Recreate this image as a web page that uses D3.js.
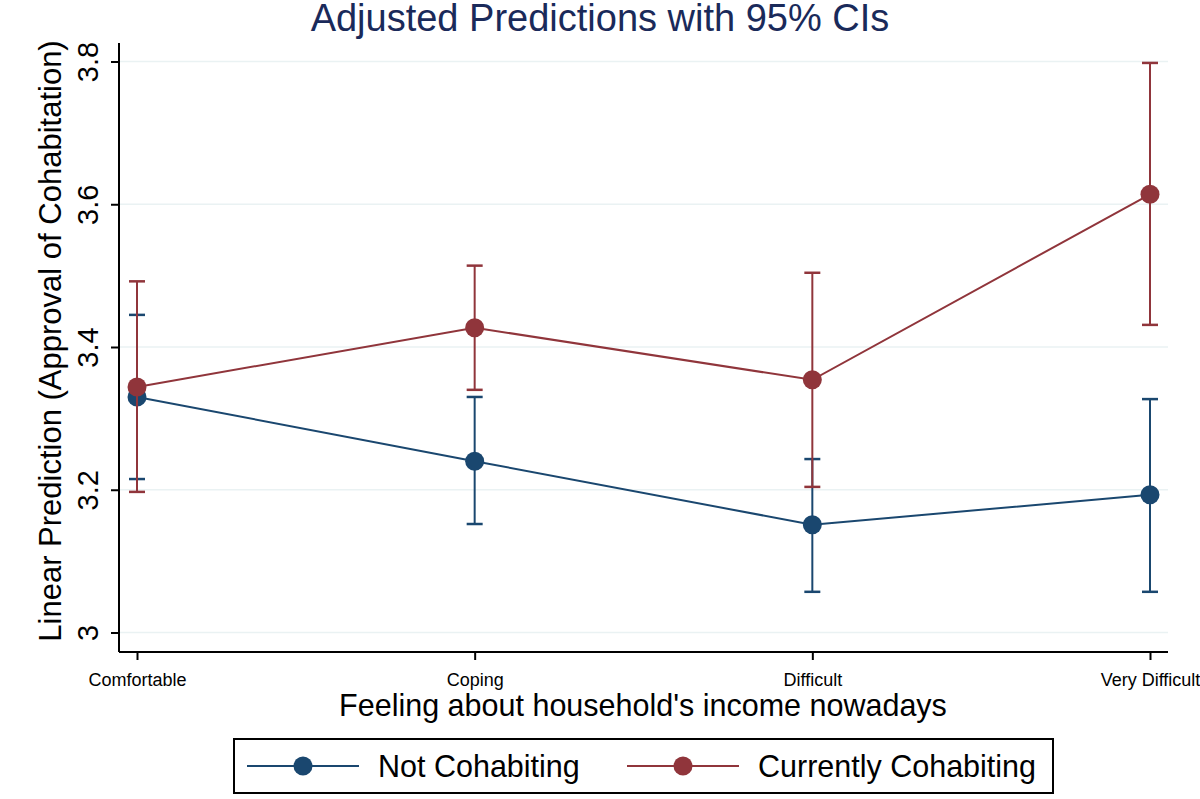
<!DOCTYPE html>
<html>
<head>
<meta charset="utf-8">
<script src="https://cdn.jsdelivr.net/npm/d3@7"></script>
<style>
  body { margin: 0; background: #fff; }
  svg { font-family: "Liberation Sans", Arial, sans-serif; }
</style>
</head>
<body>
<svg id="chart" width="1200" height="799"></svg>
<script>
// Categories and values
var categories = ["Comfortable", "Coping", "Difficult", "Very Difficult"];
var yTicks = [3, 3.2, 3.4, 3.6, 3.8];

var notCohab = [3.330, 3.240, 3.151, 3.193];
var notCohabLo = [3.215, 3.152, 3.057, 3.057];
var notCohabHi = [3.445, 3.330, 3.243, 3.327];

var cohab = [3.344, 3.427, 3.354, 3.614];
var cohabLo = [3.197, 3.340, 3.204, 3.431];
var cohabHi = [3.492, 3.514, 3.504, 3.798];

var series = [
    { name: "Not Cohabiting", color: "#1a476f", est: notCohab, lo: notCohabLo, hi: notCohabHi },
    { name: "Currently Cohabiting", color: "#90353b", est: cohab, lo: cohabLo, hi: cohabHi }
];

var svg = d3.select("#chart");

// plot region
var plotLeft = 119, plotRight = 1168, plotTop = 43, plotBottom = 652;

var xScale = d3.scalePoint()
    .domain(categories)
    .range([137, 1150]);

var yScale = d3.scaleLinear()
    .domain([3, 3.8])
    .range([632.5, 61.5]);

// gridlines
svg.append("g")
    .selectAll("line")
    .data(yTicks)
    .enter()
    .append("line")
    .attr("x1", plotLeft)
    .attr("x2", plotRight)
    .attr("y1", d => yScale(d))
    .attr("y2", d => yScale(d))
    .style("stroke", "#eaf2f3")
    .style("stroke-width", 1.5);

// y axis
var yAxis = d3.axisLeft(yScale).tickValues(yTicks).tickSize(8).tickFormat(d3.format("~g"));
var gy = svg.append("g")
    .attr("transform", "translate(" + plotLeft + ",0)")
    .call(yAxis);
gy.select(".domain").attr("d", "M0," + plotTop + "V" + plotBottom);
gy.selectAll("path, line").style("stroke", "#000").style("stroke-width", 2);
gy.selectAll("text")
    .attr("x", 0).attr("y", 0).attr("dy", 0)
    .style("text-anchor", "middle")
    .style("font-size", "29px")
    .style("fill", "#000")
    .attr("transform", "translate(-21,0) rotate(-90)");

// x axis
var xAxis = d3.axisBottom(xScale).tickSize(8);
var gx = svg.append("g")
    .attr("transform", "translate(0," + plotBottom + ")")
    .call(xAxis);
gx.select(".domain").attr("d", "M" + plotLeft + ",0H" + plotRight);
gx.selectAll("path, line").style("stroke", "#000").style("stroke-width", 2);
gx.selectAll("text")
    .attr("y", 21)
    .attr("dy", "0.71em")
    .style("font-size", "18px")
    .style("fill", "#000");

// line generator
var line = d3.line()
    .x((d, i) => xScale(categories[i]))
    .y(d => yScale(d));

series.forEach(function(s) {
    var g = svg.append("g");

    // CI bars
    categories.forEach(function(c, i) {
        var x = xScale(c);
        g.append("line")
            .attr("x1", x).attr("x2", x)
            .attr("y1", yScale(s.lo[i])).attr("y2", yScale(s.hi[i]))
            .style("stroke", s.color).style("stroke-width", 2);
        [s.lo[i], s.hi[i]].forEach(function(v) {
            g.append("line")
                .attr("x1", x - 8).attr("x2", x + 8)
                .attr("y1", yScale(v)).attr("y2", yScale(v))
                .style("stroke", s.color).style("stroke-width", 2.5);
        });
    });

    g.append("path")
        .datum(s.est)
        .attr("d", line)
        .style("fill", "none")
        .style("stroke", s.color)
        .style("stroke-width", 2);

    g.selectAll("circle")
        .data(s.est)
        .enter()
        .append("circle")
        .attr("cx", (d, i) => xScale(categories[i]))
        .attr("cy", d => yScale(d))
        .attr("r", 9.5)
        .style("fill", s.color);
});

// title
svg.append("text")
    .attr("x", 600)
    .attr("y", 31)
    .attr("text-anchor", "middle")
    .style("font-size", "38px")
    .style("fill", "#1a2a5a")
    .text("Adjusted Predictions with 95% CIs");

// axis titles
svg.append("text")
    .attr("x", 643)
    .attr("y", 716)
    .attr("text-anchor", "middle")
    .style("font-size", "30.5px")
    .style("fill", "#000")
    .text("Feeling about household's income nowadays");

svg.append("text")
    .attr("transform", "translate(61,341) rotate(-90)")
    .attr("text-anchor", "middle")
    .style("font-size", "31px")
    .style("fill", "#000")
    .text("Linear Prediction (Approval of Cohabitation)");

// legend
var legend = svg.append("g");
legend.append("rect")
    .attr("x", 234).attr("y", 739)
    .attr("width", 819).attr("height", 54)
    .style("fill", "#fff")
    .style("stroke", "#000")
    .style("stroke-width", 2);

var legendX = [247, 627];
series.forEach(function(s, i) {
    var x0 = legendX[i];
    legend.append("line")
        .attr("x1", x0).attr("x2", x0 + 112)
        .attr("y1", 766).attr("y2", 766)
        .style("stroke", s.color).style("stroke-width", 2);
    legend.append("circle")
        .attr("cx", x0 + 56).attr("cy", 766).attr("r", 9.5)
        .style("fill", s.color);
    legend.append("text")
        .attr("x", x0 + 131)
        .attr("y", 777)
        .style("font-size", "30.5px")
        .style("fill", "#000")
        .text(s.name);
});
</script>
</body>
</html>
